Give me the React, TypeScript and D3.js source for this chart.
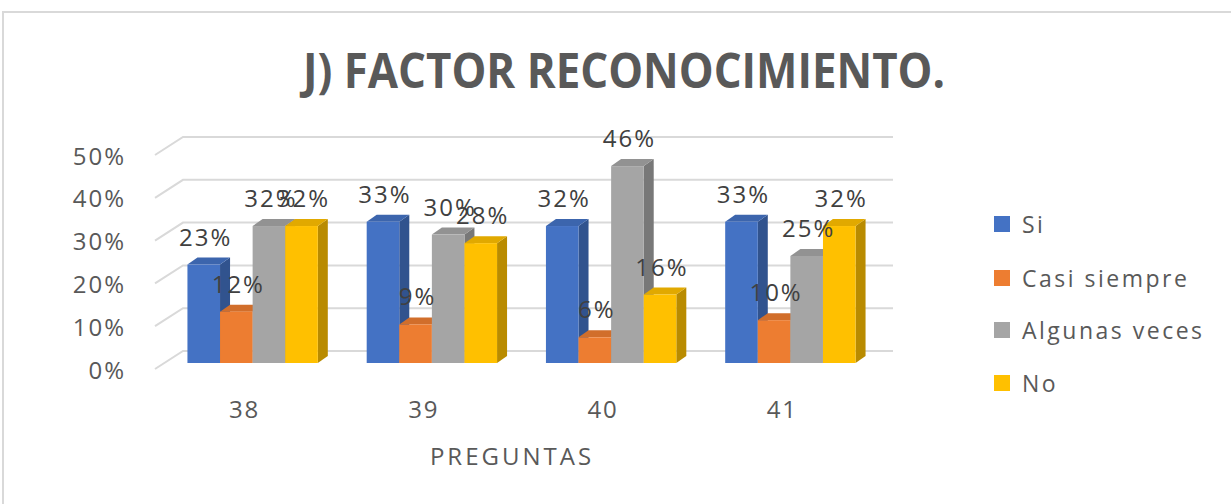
import React from "react";
import * as d3 from "d3";

const categories = ["38", "39", "40", "41"];
const seriesNames = ["Si", "Casi siempre", "Algunas veces", "No"];
const seriesColors = ["#4472C4", "#ED7D31", "#A5A5A5", "#FFC000"];
const valuesSi = [0.23, 0.33, 0.32, 0.33];
const valuesCasi = [0.12, 0.09, 0.06, 0.1];
const valuesAlgunas = [0.32, 0.3, 0.46, 0.25];
const valuesNo = [0.32, 0.28, 0.16, 0.32];
const yTicks = [0, 0.1, 0.2, 0.3, 0.4, 0.5];
const title = "J) FACTOR RECONOCIMIENTO.";
const xTitle = "PREGUNTAS";

const seriesValues = [valuesSi, valuesCasi, valuesAlgunas, valuesNo];

export default function App() {
  const W = 1231, H = 504;
  const font = "'Open Sans', 'DejaVu Sans', sans-serif";
  const floorDx = 28, floorDy = -18;
  const yBack = d3.scaleLinear().domain([0, 0.5]).range([351, 137]);
  const xFloor = d3.scaleBand<string>().domain(categories).range([155, 872]);
  const inner = d3.scaleBand<string>().domain(seriesNames).range([0, xFloor.bandwidth()]).paddingInner(0).paddingOuter(0.75);
  const frontOff = { dx: 8, dy: -6 };
  const depth = { dx: 10, dy: -7 };
  const fmt = d3.format(".0%");
  const bw = inner.bandwidth();

  const bars: any[] = [];
  categories.forEach((c, ci) => {
    seriesNames.forEach((s, si) => {
      const v = seriesValues[si][ci];
      const x0 = (xFloor(c) as number) + (inner(s) as number) + frontOff.dx;
      const yBase = yBack(0) - floorDy + frontOff.dy;
      const yTop = yBack(v) - floorDy + frontOff.dy;
      bars.push({ c, s, v, x0, yBase, yTop, color: seriesColors[si], key: c + s });
    });
  });

  const textCol = "#595959";
  return (
    <svg width={W} height={H} style={{ position: "absolute", left: 0, top: 0, background: "#fff" }}>
      <rect x={0} y={0} width={W} height={H} fill="#fff" />
      <path d={`M3,${H} L3,12 L${W},12`} fill="none" stroke="#D9D9D9" strokeWidth={2} />
      <text x={624} y={88} textAnchor="middle" fontFamily={font} fontWeight={700} fontSize={48} fill={textCol}
        textLength={642} lengthAdjust="spacingAndGlyphs">{title}</text>
      {yTicks.map((t) => (
        <g key={t}>
          <path d={`M155,${yBack(t) - floorDy} L${155 + floorDx},${yBack(t)} L893,${yBack(t)}`} fill="none" stroke="#D9D9D9" strokeWidth={2} />
          <text x={126} y={yBack(t) - floorDy} dominantBaseline="central" textAnchor="end" fontFamily={font} fontSize={24} letterSpacing={2} fill={textCol}>{fmt(t)}</text>
        </g>
      ))}
      {bars.map((b) => {
        const col = d3.color(b.color)!;
        const side = col.darker(0.9).toString();
        const top = col.darker(0.35).toString();
        const x1 = b.x0 + bw;
        return (
          <g key={b.key}>
            <path d={`M${x1},${b.yBase} L${x1 + depth.dx},${b.yBase + depth.dy} L${x1 + depth.dx},${b.yTop + depth.dy} L${x1},${b.yTop} Z`} fill={side} />
            <path d={`M${b.x0},${b.yTop} L${b.x0 + depth.dx},${b.yTop + depth.dy} L${x1 + depth.dx},${b.yTop + depth.dy} L${x1},${b.yTop} Z`} fill={top} />
            <rect x={b.x0} y={b.yTop} width={bw} height={b.yBase - b.yTop} fill={b.color} />
          </g>
        );
      })}
      {bars.map((b) => (
        <text key={"l" + b.key} x={b.x0 + bw / 2 + 2} y={b.yTop - 19} textAnchor="middle" fontFamily={font} fontSize={24} letterSpacing={2} fill="#404040">{fmt(b.v)}</text>
      ))}
      {categories.map((c) => (
        <text key={c} x={(xFloor(c) as number) + xFloor.bandwidth() / 2} y={408} dominantBaseline="central" textAnchor="middle" fontFamily={font} fontSize={24} letterSpacing={2} fill={textCol}>{c}</text>
      ))}
      <text x={512} y={455} dominantBaseline="central" textAnchor="middle" fontFamily={font} fontSize={24} letterSpacing={3} fill={textCol}>{xTitle}</text>
      {seriesNames.map((s, i) => {
        const cy = [224, 278, 330, 383][i];
        return (
          <g key={s}>
            <rect x={994} y={cy - 8} width={16} height={16} fill={seriesColors[i]} />
            <text x={1022} y={cy} dominantBaseline="central" fontFamily={font} fontSize={23} letterSpacing={2.5} fill={textCol}>{s}</text>
          </g>
        );
      })}
    </svg>
  );
}
